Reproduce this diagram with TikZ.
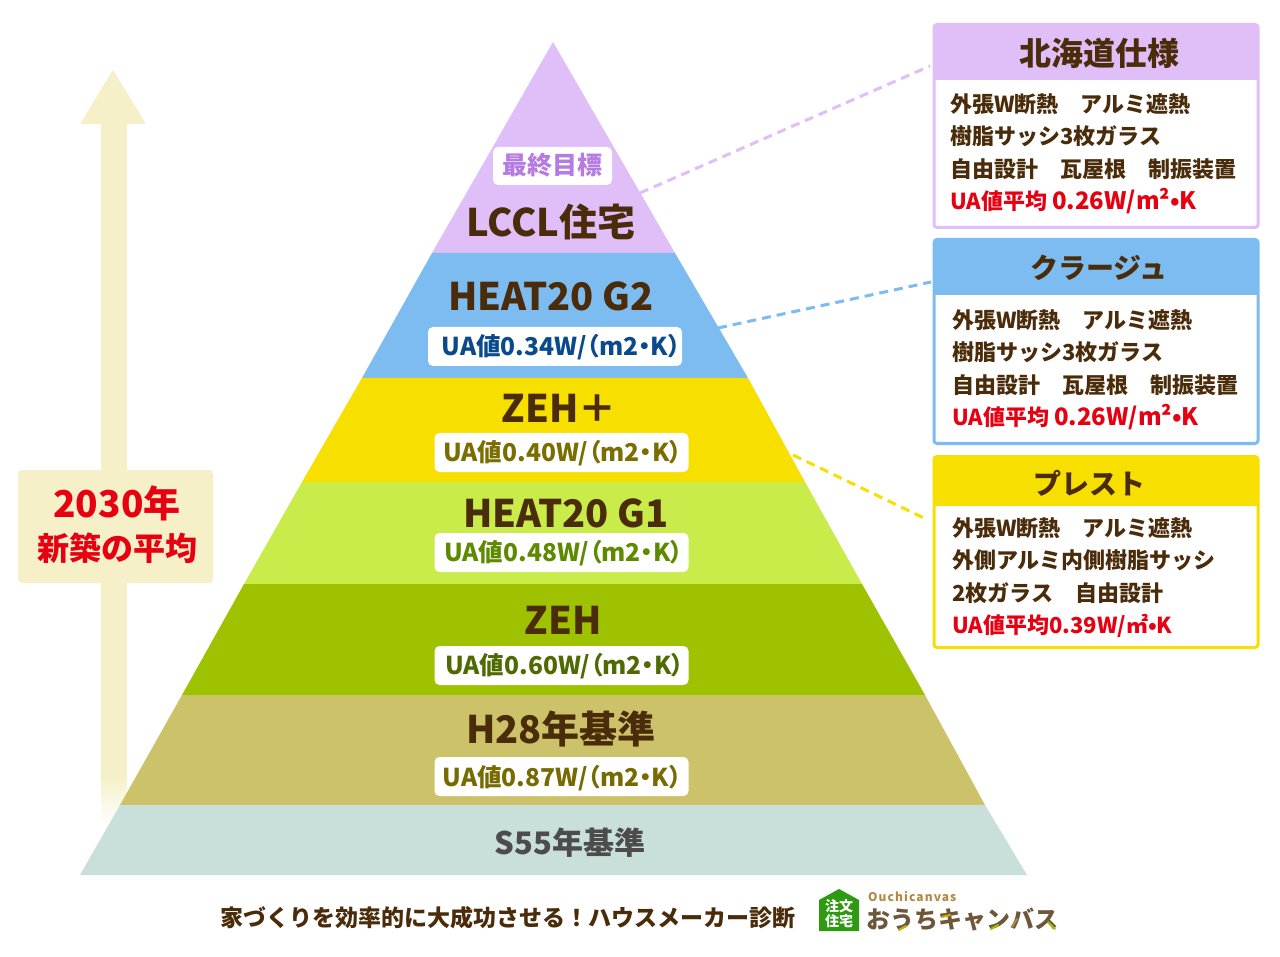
\documentclass[tikz,border=0pt]{standalone}
\usepackage{fontspec}
\setmainfont{Noto Sans CJK JP}
\newfontfamily\pillfont{Noto Sans CJK JP}[RawFeature=+palt]
\definecolor{lcclcol}{HTML}{E0BEF8}
\definecolor{gtwocol}{HTML}{7DBCF0}
\definecolor{zehpcol}{HTML}{F7E000}
\definecolor{gonecol}{HTML}{C9EC4B}
\definecolor{zehcol}{HTML}{9EC200}
\definecolor{hcol}{HTML}{CCC26A}
\definecolor{scol}{HTML}{C8DFDA}
\definecolor{creamcol}{HTML}{F5F0C8}
\definecolor{browncol}{HTML}{4A2C0A}
\definecolor{redcol}{HTML}{E60012}
\definecolor{logogreen}{HTML}{2E9A12}
\definecolor{logotan}{HTML}{B08A45}
\definecolor{goaltext}{HTML}{B57BE0}
\definecolor{gtwotext}{HTML}{0A4A8A}
\definecolor{zehptext}{HTML}{7A6E00}
\definecolor{gonetext}{HTML}{5E8A00}
\definecolor{zehtext}{HTML}{4F6A00}
\definecolor{htext}{HTML}{766A00}
\newcommand{\bigua}[1]{\textcolor{redcol}{UA値平均 {\fontsize{24}{32.5}\selectfont #1}}}
\tikzset{
    layertitle/.style={text=browncol,font=\bfseries\fontsize{38}{38}\selectfont,inner sep=0pt},
    pill/.style={fill=white,rounded corners=5pt,minimum width=254pt,minimum height=39pt,inner sep=0pt,font=\pillfont\bfseries\fontsize{24.6}{25}\selectfont},
    pilllabel/.style={text=#1,inner sep=0pt,font=\pillfont\bfseries\fontsize{24.6}{25}\selectfont},
    specbox/.style={draw=#1,line width=3pt,fill=white,rounded corners=3pt,minimum width=324pt,inner sep=0pt},
    spechead/.style={fill=#1,minimum width=324pt,inner sep=0pt},
    spectitle/.style={text=browncol,inner sep=0pt,font=\bfseries\fontsize{#1}{#1}\selectfont},
    spectext/.style={anchor=north west,align=left,text=browncol,inner sep=0pt,font=\bfseries\fontsize{22}{32.5}\selectfont},
    tieline/.style={draw=#1,line width=3pt,dash pattern=on 9pt off 6pt},
}
\begin{document}
\begin{tikzpicture}[x=1pt,y=-1pt]
    \useasboundingbox[fill=white] (0,0) rectangle (1280,957);
    % arrow
    \fill[creamcol,rounded corners=1pt] (113,70)--(146,124)--(80,124)--cycle;
    \fill[creamcol] (101,123) rectangle (127,776);
    \shade[top color=creamcol,bottom color=white] (101,775) rectangle (127,826);
    \node[fill=creamcol,rounded corners=4pt,minimum width=195pt,minimum height=113pt,inner sep=0pt] (yearbox) at (115.5,526.5) {};
    \node[text=redcol,inner sep=0pt,font=\bfseries\fontsize{37}{37}\selectfont] (yearlabel) at (117,503) {2030年};
    \node[text=redcol,inner sep=0pt,font=\bfseries\fontsize{32}{32}\selectfont] (averagelabel) at (117.5,548) {新築の平均};
    % pyramid
    \fill[lcclcol] (553,42)--(675,253)--(432,253)--cycle;
    \foreach \ytop/\xa/\xb/\ybot/\xc/\xd/\col in {253/432/675/378/362/748/gtwocol,378/362/748/482/302/805/zehpcol,482/302/805/584/244/862/gonecol,584/244/862/695/182/925/zehcol,695/182/925/805/120/985/hcol,805/120/985/875/80/1027/scol}
    {
        \fill[\col] (\xa,\ytop)--(\xb,\ytop)--(\xd,\ybot)--(\xc,\ybot)--cycle;
    }
    % labels
    \node[pill,minimum width=119pt,minimum height=38pt] (goalpill) at (552.5,166) {};
    \node[pilllabel=goaltext,font=\bfseries\fontsize{25}{25}\selectfont] (goallabel) at (552,165) {最終目標};
    \node[layertitle] (lccl) at (551,222) {LCCL住宅};
    \node[layertitle] (gtwo) at (551,296) {HEAT20 G2};
    \node[pill] (gtwopill) at (555,346.5) {};
    \node[pilllabel=gtwotext] (gtwolabel) at (561,347) {UA値0.34W/（m2・K）};
    \node[layertitle] (zehp) at (559,408) {ZEH＋};
    \node[pill] (zehppill) at (561.5,452.5) {};
    \node[pilllabel=zehptext] (zehplabel) at (562.5,453) {UA値0.40W/（m2・K）};
    \node[layertitle] (gone) at (566,513) {HEAT20 G1};
    \node[pill] (gonepill) at (561.5,552.5) {};
    \node[pilllabel=gonetext] (gonelabel) at (563.5,553) {UA値0.48W/（m2・K）};
    \node[layertitle] (zeh) at (563,620) {ZEH};
    \node[pill] (zehpill) at (561.5,665.5) {};
    \node[pilllabel=zehtext] (zehlabel) at (564.5,666) {UA値0.60W/（m2・K）};
    \node[layertitle] (hyear) at (561,729) {H28年基準};
    \node[pill] (hpill) at (561.5,776.5) {};
    \node[pilllabel=htext] (hlabel) at (562,778) {UA値0.87W/（m2・K）};
    \node[layertitle,text=black!70,font=\bfseries\fontsize{31}{31}\selectfont] (syear) at (570,843) {S55年基準};
    % right boxes
    \node[specbox=lcclcol,minimum height=203pt] (hokkaido) at (1096,126) {};
    \node[spechead=lcclcol,minimum height=56pt] (hokkaidohead) at (1096,52) {};
    \node[spectitle=32] (hokkaidotitle) at (1099,53) {北海道仕様};
    \node[spectext] (hokkaidotext) at (950,93) {外張W断熱　アルミ遮熱\\樹脂サッシ3枚ガラス\\自由設計　瓦屋根　制振装置\\\bigua{0.26W/m²•K}};
    \node[specbox=gtwocol,minimum height=204pt] (coolage) at (1096,341.5) {};
    \node[spechead=gtwocol,minimum height=56pt] (coolagehead) at (1096,267.5) {};
    \node[spectitle=28] (coolagetitle) at (1099,268) {クラージュ};
    \node[spectext] (coolagetext) at (952,309) {外張W断熱　アルミ遮熱\\樹脂サッシ3枚ガラス\\自由設計　瓦屋根　制振装置\\\bigua{0.26W/m²•K}};
    \node[specbox=zehpcol,minimum height=191pt] (blest) at (1096,552) {};
    \node[spechead=zehpcol,minimum height=50pt] (blesthead) at (1096,481) {};
    \node[spectitle=28] (blesttitle) at (1089,483) {プレスト};
    \node[spectext] (blesttext) at (952,517) {外張W断熱　アルミ遮熱\\外側アルミ内側樹脂サッシ\\2枚ガラス　自由設計\\\textcolor{redcol}{UA値平均0.39W/㎡•K}};
    % dashed ties
    \coordinate (lcclend) at (640,193);
    \coordinate (hokkaidoend) at (930,66);
    \coordinate (gtwoend) at (718,328);
    \coordinate (coolageend) at (931,282);
    \coordinate (zehpend) at (793,455);
    \coordinate (blestend) at (928,520);
    \draw[tieline=lcclcol] (lcclend)--(hokkaidoend);
    \draw[tieline=gtwocol] (gtwoend)--(coolageend);
    \draw[tieline=zehpcol] (zehpend)--(blestend);
    % footer
    \node[text=browncol,inner sep=0pt,font=\bfseries\fontsize{23}{23}\selectfont] (footer) at (508,918) {家づくりを効率的に大成功させる！ハウスメーカー診断};
    \fill[logogreen] (839,889)--(859,900)--(859,931)--(819,931)--(819,900)--cycle;
    \node[text=white,inner sep=0pt,align=center,font=\bfseries\fontsize{14}{15}\selectfont] (logomark) at (839,914) {注文\\住宅};
    \node[text=logotan,inner sep=0pt,anchor=west,font=\addfontfeature{LetterSpace=9}\bfseries\fontsize{12}{12}\selectfont] (logolatin) at (868,897) {Ouchicanvas};
    \node[text=browncol!80,inner sep=0pt,anchor=west,font=\bfseries\fontsize{24}{24}\selectfont] (logoname) at (866,920) {おうちキャンバス};
    \foreach \xa/\ya/\xb/\yb/\col in {899/930/906/926/zehpcol!80!black,942/917/950/915/zehpcol!80!black,991/929/998/925/zehcol,1012/927/1017/919/logotan,1048/922/1055/929/zehcol}
    {
        \draw[\col,line width=2pt,line cap=round] (\xa,\ya)--(\xb,\yb);
    }
\end{tikzpicture}
\end{document}
